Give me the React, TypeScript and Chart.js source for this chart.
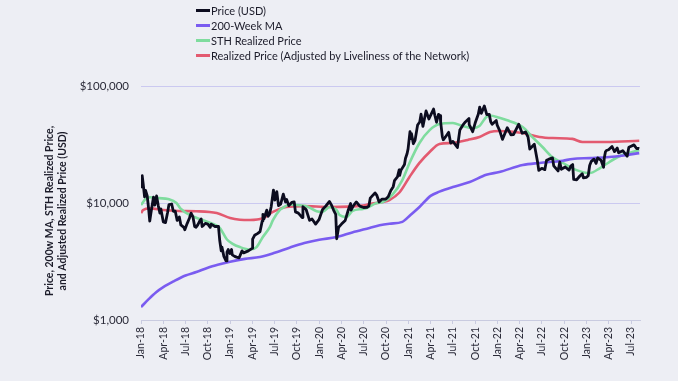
import React, { useEffect, useRef } from 'react';
import { Chart, registerables } from 'chart.js';

Chart.register(...registerables);

// ---------- DATA ----------
const priceSeries: [string, number][] = [
  ['2018-01-01', 13400], ['2018-01-06', 17100], ['2018-01-10', 14600], ['2018-01-16', 11300],
  ['2018-01-20', 12800], ['2018-01-27', 11500], ['2018-02-02', 8800], ['2018-02-06', 7000],
  ['2018-02-10', 8100], ['2018-02-20', 11200], ['2018-02-25', 9600], ['2018-03-04', 11500],
  ['2018-03-11', 9500], ['2018-03-18', 8200], ['2018-03-22', 8900], ['2018-04-01', 6900],
  ['2018-04-10', 6800], ['2018-04-18', 8200], ['2018-04-24', 9700], ['2018-05-05', 9800],
  ['2018-05-12', 8500], ['2018-05-20', 8500], ['2018-05-28', 7100], ['2018-06-06', 7600],
  ['2018-06-12', 6500], ['2018-06-24', 6200], ['2018-06-28', 5900], ['2018-07-08', 6700],
  ['2018-07-17', 7400], ['2018-07-24', 8200], ['2018-08-01', 7600], ['2018-08-08', 6300],
  ['2018-08-14', 6200], ['2018-08-21', 6500], ['2018-08-29', 7000], ['2018-09-04', 7300],
  ['2018-09-08', 6300], ['2018-09-15', 6500], ['2018-09-21', 6700], ['2018-10-01', 6600],
  ['2018-10-11', 6200], ['2018-10-15', 6600], ['2018-10-31', 6300], ['2018-11-14', 6300],
  ['2018-11-19', 4800], ['2018-11-25', 3900], ['2018-11-28', 4200], ['2018-12-06', 3500],
  ['2018-12-15', 3200], ['2018-12-19', 3800], ['2018-12-24', 4000], ['2018-12-31', 3700],
  ['2019-01-07', 4000], ['2019-01-10', 3600], ['2019-01-20', 3500], ['2019-01-28', 3450],
  ['2019-02-07', 3400], ['2019-02-18', 3900], ['2019-02-24', 3750], ['2019-03-15', 3900],
  ['2019-03-31', 4100], ['2019-04-02', 4900], ['2019-04-10', 5300], ['2019-04-23', 5500],
  ['2019-05-02', 5700], ['2019-05-11', 7000], ['2019-05-14', 8000], ['2019-05-18', 7300],
  ['2019-05-30', 8700], ['2019-06-04', 7700], ['2019-06-10', 8000], ['2019-06-17', 9300],
  ['2019-06-26', 12900], ['2019-07-02', 10600], ['2019-07-10', 12500], ['2019-07-17', 9500],
  ['2019-07-26', 9800], ['2019-08-06', 11900], ['2019-08-15', 10200], ['2019-08-20', 10700],
  ['2019-08-29', 9500], ['2019-09-10', 10100], ['2019-09-20', 10200], ['2019-09-25', 8400],
  ['2019-10-07', 8200], ['2019-10-23', 7500], ['2019-10-26', 9300], ['2019-11-08', 8800],
  ['2019-11-22', 7100], ['2019-12-02', 7300], ['2019-12-17', 6600], ['2019-12-31', 7200],
  ['2020-01-08', 8000], ['2020-01-15', 8800], ['2020-01-28', 9400], ['2020-02-12', 10300],
  ['2020-02-20', 9600], ['2020-02-28', 8700], ['2020-03-08', 8000], ['2020-03-12', 4950],
  ['2020-03-20', 6200], ['2020-04-01', 6600], ['2020-04-16', 7100], ['2020-04-29', 8800],
  ['2020-05-08', 9900], ['2020-05-10', 8700], ['2020-05-20', 9500], ['2020-06-01', 10200],
  ['2020-06-15', 9400], ['2020-06-30', 9150], ['2020-07-15', 9200], ['2020-07-22', 9400],
  ['2020-07-28', 11000], ['2020-08-17', 12200], ['2020-08-24', 11700], ['2020-09-03', 10200],
  ['2020-09-15', 10800], ['2020-09-30', 10800], ['2020-10-10', 11300], ['2020-10-21', 12800],
  ['2020-10-31', 13800], ['2020-11-05', 15500], ['2020-11-17', 16700], ['2020-11-24', 19200],
  ['2020-11-26', 17200], ['2020-12-01', 19000], ['2020-12-16', 21300], ['2020-12-20', 24000],
  ['2020-12-27', 26500], ['2020-12-31', 29000], ['2021-01-08', 40700], ['2021-01-11', 35500],
  ['2021-01-14', 39200], ['2021-01-22', 32100], ['2021-01-29', 34300], ['2021-02-08', 46400],
  ['2021-02-16', 49200], ['2021-02-21', 57500], ['2021-02-28', 45200], ['2021-03-13', 61200],
  ['2021-03-25', 52300], ['2021-04-13', 63500], ['2021-04-18', 56200], ['2021-04-25', 49000],
  ['2021-05-03', 57200], ['2021-05-10', 55800], ['2021-05-12', 49200], ['2021-05-19', 37000],
  ['2021-05-23', 34700], ['2021-06-01', 36700], ['2021-06-14', 40200], ['2021-06-22', 32500],
  ['2021-07-01', 33600], ['2021-07-20', 29800], ['2021-07-30', 42000], ['2021-08-14', 47000],
  ['2021-08-22', 49300], ['2021-09-06', 52700], ['2021-09-07', 46800], ['2021-09-21', 40700],
  ['2021-10-01', 48200], ['2021-10-14', 57400], ['2021-10-20', 66000], ['2021-10-27', 58400],
  ['2021-11-08', 67500], ['2021-11-18', 56900], ['2021-11-28', 57200], ['2021-12-04', 49400],
  ['2021-12-10', 47100], ['2021-12-27', 50700], ['2021-12-31', 46300], ['2022-01-10', 41800],
  ['2022-01-22', 35000], ['2022-02-10', 44000], ['2022-02-24', 38300], ['2022-03-06', 38400],
  ['2022-03-28', 47100], ['2022-04-11', 39500], ['2022-04-25', 40400], ['2022-05-05', 36500],
  ['2022-05-12', 28900], ['2022-05-31', 31800], ['2022-06-13', 22500], ['2022-06-18', 19000],
  ['2022-06-30', 19800], ['2022-07-13', 19300], ['2022-07-20', 23200], ['2022-07-30', 23700],
  ['2022-08-14', 24300], ['2022-08-19', 20800], ['2022-09-06', 18800], ['2022-09-13', 22400],
  ['2022-09-19', 19400], ['2022-10-05', 20300], ['2022-10-21', 19100], ['2022-10-29', 20800],
  ['2022-11-05', 21300], ['2022-11-09', 15900], ['2022-11-21', 15800], ['2022-12-05', 17100],
  ['2022-12-14', 17800], ['2022-12-19', 16400], ['2022-12-31', 16550], ['2023-01-08', 17100],
  ['2023-01-14', 20900], ['2023-01-21', 22700], ['2023-02-01', 23700], ['2023-02-09', 21800],
  ['2023-02-15', 24300], ['2023-02-28', 23100], ['2023-03-10', 20200], ['2023-03-13', 24200],
  ['2023-03-18', 27400], ['2023-03-22', 28100], ['2023-03-31', 28500], ['2023-04-14', 30400],
  ['2023-04-24', 27500], ['2023-05-05', 29500], ['2023-05-11', 26900], ['2023-05-28', 28000],
  ['2023-06-15', 25100], ['2023-06-22', 30000], ['2023-07-01', 30600], ['2023-07-13', 31400],
  ['2023-07-24', 29200], ['2023-07-31', 29300], ['2023-08-04', 29100],
];

const ma200Series: [string, number][] = [
  ['2018-01-01', 1290], ['2018-02-01', 1500], ['2018-03-01', 1720], ['2018-04-01', 1910],
  ['2018-05-15', 2150], ['2018-07-01', 2400], ['2018-08-15', 2570], ['2018-10-01', 2800],
  ['2018-11-15', 2980], ['2019-01-01', 3150], ['2019-03-01', 3330], ['2019-05-01', 3450],
  ['2019-07-01', 3750], ['2019-09-01', 4150], ['2019-11-01', 4550], ['2020-01-01', 4850],
  ['2020-03-12', 5120], ['2020-05-15', 5600], ['2020-07-25', 6120], ['2020-09-05', 6450],
  ['2020-10-15', 6650], ['2020-12-07', 6900], ['2021-01-10', 7900], ['2021-02-15', 9240],
  ['2021-04-01', 11500], ['2021-05-07', 12500], ['2021-07-01', 13700], ['2021-09-09', 15100],
  ['2021-11-16', 17400], ['2022-01-09', 18400], ['2022-04-13', 21100], ['2022-06-21', 22000],
  ['2022-09-25', 23000], ['2022-11-04', 23800], ['2023-01-15', 24200], ['2023-04-03', 24700],
  ['2023-06-01', 25500], ['2023-08-04', 26700],
];

const sthSeries: [string, number][] = [
  ['2018-01-01', 9600], ['2018-01-20', 10800], ['2018-02-07', 11200], ['2018-03-15', 11000],
  ['2018-04-20', 10800], ['2018-05-25', 10000], ['2018-06-10', 9000], ['2018-07-18', 7900],
  ['2018-09-10', 7150], ['2018-11-07', 6400], ['2018-11-20', 6100], ['2018-12-18', 4900],
  ['2019-01-10', 4500], ['2019-02-10', 4200], ['2019-03-22', 4000], ['2019-04-18', 4200],
  ['2019-05-13', 5100], ['2019-06-12', 6250], ['2019-06-24', 7150], ['2019-07-22', 8700],
  ['2019-08-03', 9050], ['2019-09-01', 9700], ['2019-10-24', 9500], ['2019-11-10', 9400],
  ['2019-12-21', 8500], ['2020-01-15', 8400], ['2020-02-13', 9250], ['2020-03-12', 8700],
  ['2020-03-24', 7900], ['2020-04-22', 7600], ['2020-05-16', 8550], ['2020-06-28', 8900],
  ['2020-07-13', 9050], ['2020-08-24', 10000], ['2020-09-18', 10200], ['2020-10-28', 11800],
  ['2020-12-07', 15700], ['2021-01-06', 22000], ['2021-02-15', 32600], ['2021-03-28', 42000],
  ['2021-05-07', 47300], ['2021-07-01', 48300], ['2021-08-10', 45500], ['2021-09-21', 43700],
  ['2021-10-19', 45500], ['2021-11-16', 54400], ['2021-12-01', 56000], ['2022-01-09', 53500],
  ['2022-02-07', 51200], ['2022-04-13', 44600], ['2022-05-22', 36700], ['2022-07-03', 30100],
  ['2022-08-13', 24700], ['2022-09-25', 22000], ['2022-11-21', 19100], ['2023-01-13', 18000],
  ['2023-02-24', 19900], ['2023-04-03', 22400], ['2023-05-25', 25700], ['2023-07-06', 27300],
  ['2023-08-04', 28400],
];

const realizedSeries: [string, number][] = [
  ['2018-01-01', 8200], ['2018-01-10', 8700], ['2018-02-07', 9000], ['2018-04-01', 8700],
  ['2018-06-01', 8550], ['2018-08-16', 8500], ['2018-11-07', 8200], ['2019-01-01', 7450],
  ['2019-02-10', 7200], ['2019-03-22', 7150], ['2019-05-13', 7400], ['2019-06-24', 8400],
  ['2019-08-19', 9250], ['2019-10-24', 9400], ['2020-02-13', 9250], ['2020-06-28', 9500],
  ['2020-07-25', 9800], ['2020-09-18', 10200], ['2020-10-15', 10600], ['2020-11-25', 12300],
  ['2021-01-06', 16700], ['2021-02-15', 22000], ['2021-03-28', 27300], ['2021-05-07', 31900],
  ['2021-07-01', 32600], ['2021-09-01', 34600], ['2021-10-19', 36700], ['2021-12-01', 40500],
  ['2022-01-09', 41300], ['2022-04-13', 39700], ['2022-06-21', 36700], ['2022-08-15', 35900],
  ['2022-11-04', 35300], ['2022-12-15', 33200], ['2023-03-22', 33200], ['2023-08-04', 34000],
];

const xTickMonths = [0, 3, 6, 9, 12, 15, 18, 21, 24, 27, 30, 33, 36, 39, 42, 45, 48, 51, 54, 57, 60, 63, 66];
const xTickLabels = [
  'Jan-18', 'Apr-18', 'Jul-18', 'Oct-18', 'Jan-19', 'Apr-19', 'Jul-19', 'Oct-19',
  'Jan-20', 'Apr-20', 'Jul-20', 'Oct-20', 'Jan-21', 'Apr-21', 'Jul-21', 'Oct-21',
  'Jan-22', 'Apr-22', 'Jul-22', 'Oct-22', 'Jan-23', 'Apr-23', 'Jul-23',
];
const yTickValues = [1000, 10000, 100000];
const yTickLabels = ['$1,000', '$10,000', '$100,000'];

const seriesNames = [
  'Price (USD)',
  '200-Week MA',
  'STH Realized Price',
  'Realized Price (Adjusted by Liveliness of the Network)',
];
const seriesColors = ['#0c0c1f', '#7a5cf0', '#7fdc9e', '#e35a70'];
const yTitle = ['Price, 200w MA, STH Realized Price,', 'and Adjusted Realized Price (USD)'];

// ---------- HELPERS ----------
function monthOffset(s: string): number {
  const [y, m, d] = s.split('-').map(Number);
  const dim = new Date(y, m, 0).getDate();
  return (y - 2018) * 12 + (m - 1) + (d - 1) / dim;
}
const toPoints = (arr: [string, number][]) => arr.map(([d, v]) => ({ x: monthOffset(d), y: v }));

const FONT = 'Lato, "Open Sans", sans-serif';
const BG = '#edeef4';

const yTitlePlugin = {
  id: 'yTitlePlugin',
  afterDraw(chart: any) {
    const ctx = chart.ctx;
    const ca = chart.chartArea;
    ctx.save();
    ctx.fillStyle = '#1c1c2a';
    ctx.font = `bold 10.5px ${FONT}`;
    ctx.textAlign = 'center';
    ctx.textBaseline = 'middle';
    const cy = (ca.top + ca.bottom) / 2 + 8;
    yTitle.forEach((line, i) => {
      ctx.save();
      ctx.translate(50 + i * 12.6, cy);
      ctx.rotate(-Math.PI / 2);
      ctx.fillText(line, 0, 0);
      ctx.restore();
    });
    ctx.restore();
  },
};

export default function App() {
  const ref = useRef<HTMLCanvasElement | null>(null);

  useEffect(() => {
    if (!ref.current) return;
    const allSeries = [priceSeries, ma200Series, sthSeries, realizedSeries];
    const chart = new Chart(ref.current, {
      type: 'line',
      data: {
        datasets: allSeries.map((s, i) => ({
          label: seriesNames[i],
          data: toPoints(s),
          borderColor: seriesColors[i],
          backgroundColor: seriesColors[i],
          borderWidth: i === 0 ? 2.8 : 2.6,
          pointRadius: 0,
          tension: i === 0 ? 0 : 0.4,
          cubicInterpolationMode: i === 0 ? 'default' : 'monotone',
          borderJoinStyle: 'round',
          fill: false,
        })) as any,
      },
      options: {
        animation: false,
        responsive: false,
        maintainAspectRatio: false,
        layout: { padding: { top: 86, right: 38, left: 0, bottom: 0 } },
        plugins: {
          legend: { display: false },
          tooltip: { enabled: false },
        },
        scales: {
          x: {
            type: 'linear',
            min: 0,
            max: 67.2,
            afterBuildTicks: (s: any) => {
              s.ticks = xTickMonths.map((v) => ({ value: v }));
            },
            afterFit: (s: any) => {
              s.height = 61;
            },
            ticks: {
              autoSkip: false,
              minRotation: 90,
              maxRotation: 90,
              padding: 3,
              color: '#2a2a38',
              font: { family: FONT, size: 10.5 },
              callback: (_v: any, i: number) => xTickLabels[i],
            },
            grid: { drawOnChartArea: false, drawTicks: true, tickLength: 4, color: '#c9cbe0' },
            border: { display: true, color: '#c9cbe0' },
          },
          y: {
            type: 'logarithmic',
            min: 1000,
            max: 100000,
            afterBuildTicks: (s: any) => {
              s.ticks = yTickValues.map((v) => ({ value: v }));
            },
            afterFit: (s: any) => {
              s.width = 141;
            },
            ticks: {
              padding: 12,
              color: '#2a2a38',
              font: { family: FONT, size: 11.5 },
              callback: (_v: any, i: number) => yTickLabels[i],
            },
            grid: { drawTicks: false, color: '#cbc9f0' },
            border: { display: false },
            title: { display: false },
          },
        },
      } as any,
      plugins: [yTitlePlugin],
    });
    return () => chart.destroy();
  }, []);

  return (
    <div
      style={{
        position: 'fixed',
        left: 0,
        top: 0,
        width: 678,
        height: 381,
        background: BG,
        fontFamily: FONT,
        overflow: 'hidden',
      }}
    >
      <canvas ref={ref} width={678} height={381} style={{ position: 'absolute', left: 0, top: 0, display: 'block' }} />
      <div style={{ position: 'absolute', left: 196, top: 3 }}>
        {seriesNames.map((n, i) => (
          <div key={n} style={{ display: 'flex', alignItems: 'center', height: 15 }}>
            <span style={{ display: 'inline-block', width: 14, height: 3, background: seriesColors[i] }} />
            <span style={{ fontSize: 11, color: '#1c1c2a', lineHeight: '15px', marginLeft: 1, whiteSpace: 'nowrap' }}>{n}</span>
          </div>
        ))}
      </div>
    </div>
  );
}
